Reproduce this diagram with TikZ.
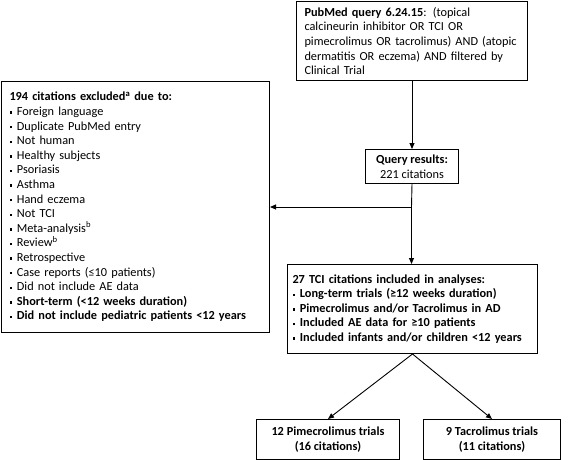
\documentclass[tikz,border=0pt]{standalone}
\usepackage{fontspec}
\setmainfont{Carlito}
\usetikzlibrary{arrows.meta}
\newcommand\bul{\rule[0.28ex]{0.42ex}{0.42ex}\hspace{0.4em}}
\begin{document}
\begin{tikzpicture}[x=1pt,y=-1pt,
  box/.style={draw, line width=1pt, inner ysep=0pt, anchor=north west},
  arr/.style={line width=0.9pt, -{Triangle[length=6pt,width=5pt]}},
  ln/.style={line width=0.9pt},
  font=\fontsize{12.3}{14.6}\selectfont]
\useasboundingbox (0,0) rectangle (568,460);
\node[box, inner xsep=8pt, text width=215pt, minimum height=79pt, align=left] (pub) at (296,1)
 {\textbf{PubMed query 6.24.15}: (topical\\
  calcineurin inhibitor OR TCI OR\\
  pimecrolimus OR tacrolimus) AND (atopic\\
  dermatitis OR eczema) AND filtered by\\
  Clinical Trial};
\node[box, inner xsep=0pt, minimum width=93pt, minimum height=34pt, align=center] (query) at (365,149)
 {\textbf{Query results:}\\221 citations};
\node[box, inner xsep=8pt, text width=252pt, minimum height=251pt, align=left] (excl) at (1,81)
 {\textbf{194 citations excluded\textsuperscript{a} due to:}\\
  \bul Foreign language\\
  \bul Duplicate PubMed entry\\
  \bul Not human\\
  \bul Healthy subjects\\
  \bul Psoriasis\\
  \bul Asthma\\
  \bul Hand eczema\\
  \bul Not TCI\\
  \bul Meta-analysis\textsuperscript{b}\\
  \bul Review\textsuperscript{b}\\
  \bul Retrospective\\
  \bul Case reports (≤10 patients)\\
  \bul Did not include AE data\\
  \textbf{\bul Short-term (<12 weeks duration)}\\
  \textbf{\bul Did not include pediatric patients <12 years}};
\node[box, inner xsep=5pt, text width=240pt, minimum height=89pt, align=left, font=\fontsize{12.3}{14.6}\selectfont\bfseries] (tci) at (287,264)
 {27 TCI citations included in analyses:\\
  \bul Long-term trials (≥12 weeks duration)\\
  \bul Pimecrolimus and/or Tacrolimus in AD\\
  \bul Included AE data for ≥10 patients\\
  \bul Included infants and/or children <12 years};
\node[box, inner xsep=0pt, minimum width=143pt, minimum height=40pt, align=center, font=\fontsize{12.3}{14.6}\selectfont\bfseries] (pime) at (256,419)
 {12 Pimecrolimus trials\\(16 citations)};
\node[box, inner xsep=0pt, minimum width=137pt, minimum height=40pt, align=center, font=\fontsize{12.3}{14.6}\selectfont\bfseries] (tac) at (423,419)
 {9 Tacrolimus trials\\(11 citations)};
\coordinate (j) at (411.5,207);
\draw[arr] (pub.south) -- (query.north);
\draw[ln] (query.south) -- (j);
\draw[arr] (j) -- (excl.east |- j);
\draw[arr] (j) -- (j |- tci.north);
\draw[arr] (tci.south) -- (pime.north);
\draw[arr] (tci.south) -- (tac.north);
\end{tikzpicture}
\end{document}
